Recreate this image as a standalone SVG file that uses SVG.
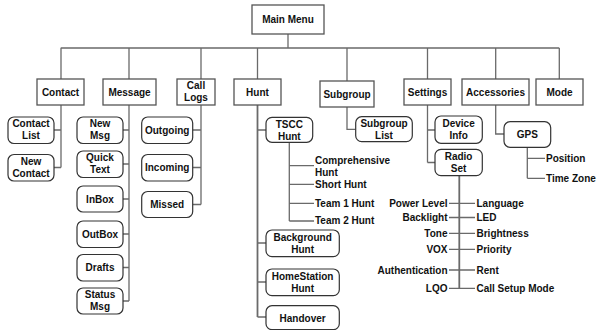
<svg xmlns="http://www.w3.org/2000/svg" width="597" height="330" viewBox="0 0 597 330">
<style>
.box{fill:#fff;stroke:#555;stroke-width:1.3}
.rb{fill:#fff;stroke:#333;stroke-width:1.2}
.ln{stroke:#6a6a6a;stroke-width:1.3;fill:none}
.th{stroke:#6a6a6a;stroke-width:1.8;fill:none}
text{font-family:"Liberation Sans",Arial,sans-serif;font-weight:bold;font-size:10px;fill:#111}
.c{text-anchor:middle}
.e{text-anchor:end}
</style>
<rect width="597" height="330" fill="#fff"/>
<g id="connectors">
<path class="ln" d="M288 34V48M60.7 48H559.3M61 48V79M129 48V79M201 48V79M257.5 48V79M347 48V81M427.5 48V79M495.7 48V79M559.3 48V79"/>
<path class="ln" d="M61 105V167.5M54 130H61M54 167.5H61"/>
<path class="ln" d="M129 105V301M123 130H129M123 164H129M123 199H129M123 234H129M123 267.5H129M123 301H129"/>
<path class="ln" d="M201 105V204.5M192.7 130H201M192.7 167.5H201M192.7 204.5H201"/>
<path class="th" d="M257.5 105V317"/>
<path class="ln" d="M257.5 130H266M257.5 243H266M257.5 282H266M257.5 317H266"/>
<path class="ln" d="M289.3 142.3V221M289.3 165.7H314M289.3 184.3H314M289.3 203.3H314M289.3 221H314"/>
<path class="ln" d="M347 107V129.3H355.7"/>
<path class="ln" d="M427.5 105V162.5M427.5 130H435M427.5 162.5H435"/>
<path class="ln" d="M495.7 105V134H504"/>
<path class="ln" d="M527.3 147.3V178.3M527.3 158.3H545M527.3 178.3H545"/>
<path class="th" d="M459.3 175.7V288.5"/>
<path class="ln" d="M449 203.3H475M449 217.5H475M449 233.3H475M449 249.3H475M449 270H475M449 288.3H475"/>
</g>
<g id="main-menu"><rect class="box" x="252" y="5" width="72" height="29"/><text class="c" x="288" y="23">Main Menu</text></g>
<g id="contact"><rect class="box" x="37" y="79" width="47" height="26"/><text class="c" x="60.5" y="95.5">Contact</text></g>
<g id="message"><rect class="box" x="103" y="79" width="53" height="26"/><text class="c" x="129.5" y="95.5">Message</text></g>
<g id="call-logs"><rect class="box" x="177" y="79" width="38" height="26"/><text class="c" x="196" y="89.3">Call</text><text class="c" x="196" y="101">Logs</text></g>
<g id="hunt"><rect class="box" x="234" y="79" width="47" height="26"/><text class="c" x="257.5" y="95.5">Hunt</text></g>
<g id="subgroup"><rect class="box" x="320" y="81" width="54" height="26"/><text class="c" x="347" y="97.5">Subgroup</text></g>
<g id="settings"><rect class="box" x="404" y="79" width="47" height="26"/><text class="c" x="427.5" y="95.5">Settings</text></g>
<g id="accessories"><rect class="box" x="462" y="79" width="67" height="26"/><text class="c" x="495.5" y="95.5">Accessories</text></g>
<g id="mode"><rect class="box" x="536" y="79" width="47" height="26"/><text class="c" x="559.5" y="95.5">Mode</text></g>
<g id="contact-list"><rect class="rb" x="8" y="117" width="46" height="26.5" rx="6"/><text class="c" x="31" y="127.3">Contact</text><text class="c" x="31" y="139.3">List</text></g>
<g id="new-contact"><rect class="rb" x="8" y="154.5" width="46" height="26.5" rx="6"/><text class="c" x="31" y="164.8">New</text><text class="c" x="31" y="176.8">Contact</text></g>
<g id="new-msg"><rect class="rb" x="77" y="117" width="46" height="26.5" rx="6"/><text class="c" x="100" y="127.3">New</text><text class="c" x="100" y="139.3">Msg</text></g>
<g id="quick-text"><rect class="rb" x="77" y="151" width="46" height="26.5" rx="6"/><text class="c" x="100" y="161.3">Quick</text><text class="c" x="100" y="173.3">Text</text></g>
<g id="inbox"><rect class="rb" x="77" y="186" width="46" height="26" rx="6"/><text class="c" x="100" y="202.5">InBox</text></g>
<g id="outbox"><rect class="rb" x="77" y="221" width="46" height="26.5" rx="6"/><text class="c" x="100" y="237.7">OutBox</text></g>
<g id="drafts"><rect class="rb" x="77" y="254.5" width="46" height="26.5" rx="6"/><text class="c" x="100" y="271.2">Drafts</text></g>
<g id="status-msg"><rect class="rb" x="77" y="288" width="46" height="26" rx="6"/><text class="c" x="100" y="298.3">Status</text><text class="c" x="100" y="310.3">Msg</text></g>
<g id="outgoing"><rect class="rb" x="141.7" y="117" width="51" height="26.5" rx="6"/><text class="c" x="167.2" y="133.7">Outgoing</text></g>
<g id="incoming"><rect class="rb" x="141.7" y="154.5" width="51" height="26.5" rx="6"/><text class="c" x="167.2" y="171.2">Incoming</text></g>
<g id="missed"><rect class="rb" x="141.7" y="191.5" width="51" height="26" rx="6"/><text class="c" x="167.2" y="208">Missed</text></g>
<g id="tscc-hunt"><rect class="rb" x="266" y="117.3" width="46.7" height="25" rx="6"/><text class="c" x="289.3" y="127.5">TSCC</text><text class="c" x="289.3" y="139.5">Hunt</text></g>
<g id="comprehensive-hunt"><text x="315" y="163.5">Comprehensive</text><text x="315" y="175.5">Hunt</text></g>
<g id="short-hunt"><text x="315" y="187.7">Short Hunt</text></g>
<g id="team1-hunt"><text x="315" y="206.8">Team 1 Hunt</text></g>
<g id="team2-hunt"><text x="315" y="224.3">Team 2 Hunt</text></g>
<g id="background-hunt"><rect class="rb" x="266" y="230" width="73.3" height="26.7" rx="6"/><text class="c" x="302.6" y="240.5">Background</text><text class="c" x="302.6" y="252.5">Hunt</text></g>
<g id="homestation-hunt"><rect class="rb" x="266" y="269" width="73.3" height="26.7" rx="6"/><text class="c" x="302.6" y="279.5">HomeStation</text><text class="c" x="302.6" y="291.5">Hunt</text></g>
<g id="handover"><rect class="rb" x="266" y="305.7" width="73.3" height="24" rx="6"/><text class="c" x="302.6" y="322">Handover</text></g>
<g id="subgroup-list"><rect class="rb" x="355.7" y="116.7" width="56.6" height="25" rx="6"/><text class="c" x="384" y="127">Subgroup</text><text class="c" x="384" y="139">List</text></g>
<g id="device-info"><rect class="rb" x="435" y="116" width="47.3" height="27.3" rx="6"/><text class="c" x="458.6" y="127.3">Device</text><text class="c" x="458.6" y="139">Info</text></g>
<g id="radio-set"><rect class="rb" x="435" y="149.3" width="47.3" height="26.4" rx="6"/><text class="c" x="458.6" y="159.5">Radio</text><text class="c" x="458.6" y="171.5">Set</text></g>
<g id="gps"><rect class="rb" x="504" y="121.7" width="46.7" height="25.6" rx="6"/><text class="c" x="527.3" y="138">GPS</text></g>
<g id="position"><text x="546" y="161.8">Position</text></g>
<g id="time-zone"><text x="546" y="181.8">Time Zone</text></g>
<g id="radio-items">
<text class="e" x="447.5" y="206.8">Power Level</text>
<text class="e" x="447.5" y="221">Backlight</text>
<text class="e" x="447.5" y="236.8">Tone</text>
<text class="e" x="447.5" y="252.8">VOX</text>
<text class="e" x="447.5" y="273.5">Authentication</text>
<text class="e" x="447.5" y="291.8">LQO</text>
<text x="476.5" y="206.8">Language</text>
<text x="476.5" y="221">LED</text>
<text x="476.5" y="236.8">Brightness</text>
<text x="476.5" y="252.8">Priority</text>
<text x="476.5" y="273.5">Rent</text>
<text x="476.5" y="291.8">Call Setup Mode</text>
</g>
</svg>
